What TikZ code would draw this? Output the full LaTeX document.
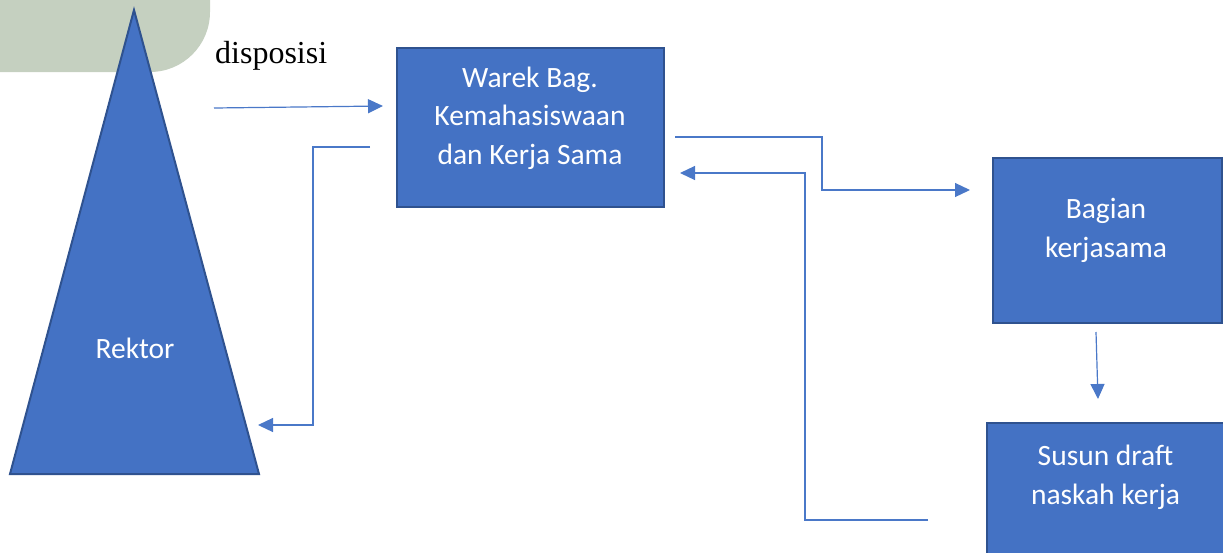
\documentclass[tikz,border=0pt]{standalone}
\usepackage{fontspec}
\setmainfont{Carlito}
\newfontfamily\serifface{Liberation Serif}
\usetikzlibrary{arrows.meta}
\definecolor{boxblue}{HTML}{4472C4}
\definecolor{boxedge}{HTML}{2F528F}
\definecolor{linkblue}{HTML}{4A78C8}
\definecolor{sage}{HTML}{C5D0C0}

\begin{document}
\begin{tikzpicture}[x=1pt,y=-1pt,
  block/.style={draw=boxedge, line width=2pt, fill=boxblue, inner sep=0pt, anchor=north west},
  boxtext/.style={text=white, align=center, inner sep=0pt, font=\fontsize{29.5}{38.5}\selectfont},
  link/.style={draw=linkblue, line width=1.2pt, -{Triangle[length=15pt,width=14pt]}}]

\useasboundingbox (0,0) rectangle (1223,552);
\clip (0,0) rectangle (1223,552);

% decorative corner shape
\fill[sage] (-5,-5) -- (210,-5) -- (210,12) arc[start angle=0, end angle=90, radius=60] -- (-5,72) -- cycle;

% Rektor triangle
\filldraw[draw=boxedge, line width=2pt, fill=boxblue] (134,10) -- (259,474) -- (10,474) -- cycle;
\node[boxtext] (rektor) at (135,348) {Rektor};

% boxes
\node[block, minimum width=267pt, minimum height=159pt] (warek) at (396,47) {};
\node[boxtext] (warektext) at (530,118) {Warek Bag.\\Kemahasiswaan\\dan Kerja Sama};

\node[block, minimum width=229pt, minimum height=165pt] (bagian) at (992,157) {};
\node[boxtext] (bagiantext) at (1106,230.5) {Bagian\\kerjasama};

\node[block, minimum width=260pt, minimum height=170pt] (susun) at (986,422) {};
\node[boxtext] (susuntext) at (1105.5,477.5) {Susun draft\\naskah kerja};

% label
\node[anchor=base west, inner sep=0pt, font=\serifface\fontsize{32}{38}\selectfont] (dispo) at (215,63) {disposisi};

% connector end points
\coordinate (d1) at (214,108);
\coordinate (d2) at (383,106);
\coordinate (r1) at (370,147);
\coordinate (r2) at (258,425);
\coordinate (w1) at (675,137);
\coordinate (w2) at (970,190);
\coordinate (b1) at (1096,332);
\coordinate (b2) at (1098,399);
\coordinate (s1) at (928,520);
\coordinate (s2) at (680,173);

% connectors
\draw[link] (d1) -- (d2);
\draw[link] (r1) -- (313,147) -- (313,425) -- (r2);
\draw[link] (w1) -- (822,137) -- (822,190) -- (w2);
\draw[link] (b1) -- (b2);
\draw[link] (s1) -- (805,520) -- (805,173) -- (s2);
\end{tikzpicture}
\end{document}
